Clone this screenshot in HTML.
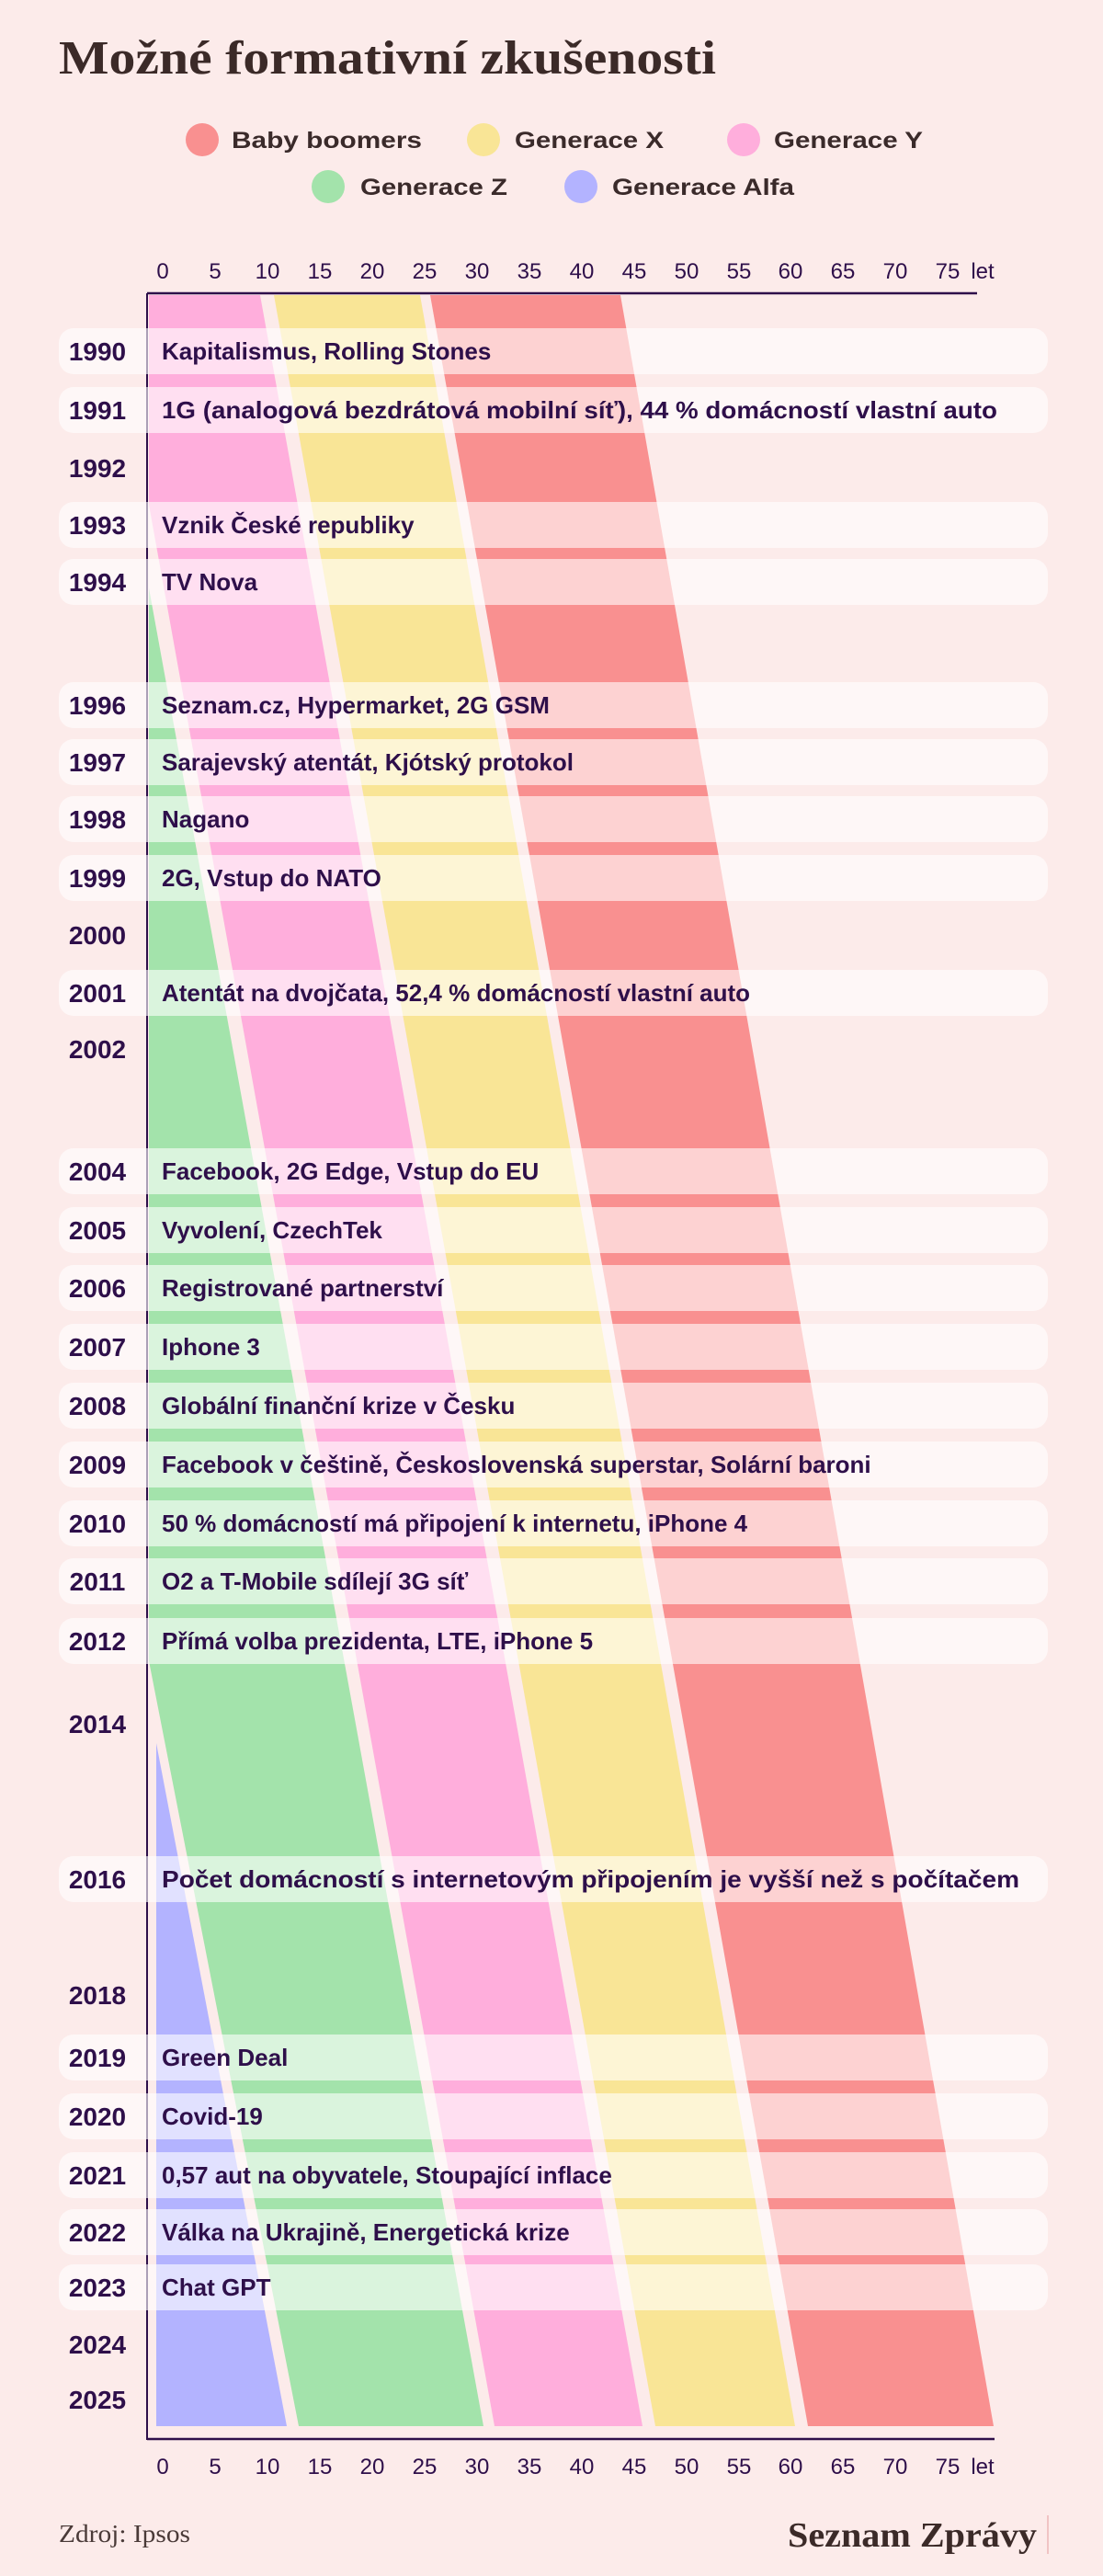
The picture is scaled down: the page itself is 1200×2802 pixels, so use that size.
<!DOCTYPE html>
<html><head><meta charset="utf-8"><style>
html,body{margin:0;padding:0;background:#fcebea;}
svg{display:block;}
.yr{font-family:"Liberation Sans",sans-serif;font-weight:bold;font-size:28px;fill:#2e0f4a;}
.ev{font-family:"Liberation Sans",sans-serif;font-weight:bold;font-size:26px;fill:#2e0f4a;}
.tk{font-family:"Liberation Sans",sans-serif;font-size:24px;fill:#2e0f4a;}
.lg{font-family:"Liberation Sans",sans-serif;font-weight:bold;font-size:25px;fill:#3a2a2a;}
</style></head><body>
<svg width="1200" height="2802" viewBox="0 0 1200 2802" xmlns="http://www.w3.org/2000/svg">
<rect width="1200" height="2802" fill="#fcebea"/>
<text x="64" y="80" font-family="Liberation Serif,serif" font-weight="bold" font-size="52" fill="#3b2a28" textLength="715" lengthAdjust="spacingAndGlyphs">Možné formativní zkušenosti</text>
<circle cx="220" cy="152" r="18" fill="#f99090"/><text class="lg" x="252" y="161" textLength="207" lengthAdjust="spacingAndGlyphs">Baby boomers</text>
<circle cx="526" cy="152" r="18" fill="#f9e596"/><text class="lg" x="560" y="161" textLength="162" lengthAdjust="spacingAndGlyphs">Generace X</text>
<circle cx="809" cy="152" r="18" fill="#ffaedc"/><text class="lg" x="842" y="161" textLength="162" lengthAdjust="spacingAndGlyphs">Generace Y</text>
<circle cx="357" cy="203" r="18" fill="#a3e3ab"/><text class="lg" x="392" y="212" textLength="160" lengthAdjust="spacingAndGlyphs">Generace Z</text>
<circle cx="632" cy="203" r="18" fill="#b3b3ff"/><text class="lg" x="666" y="212" textLength="198" lengthAdjust="spacingAndGlyphs">Generace Alfa</text>
<defs>
<clipPath id="c1"><rect x="162" y="321" width="1000" height="2318"/></clipPath>
<clipPath id="c2"><rect x="170" y="321" width="1000" height="2318"/></clipPath>
</defs>
<g clip-path="url(#c1)">
<polygon points="468,321 675,321 1081,2639 879,2639" fill="#f99090"/>
<polygon points="298,321 457,321 865,2639 713,2639" fill="#f9e596"/>
<polygon points="121,321 283,321 699,2639 538,2639" fill="#ffaedc"/>
<polygon points="-129,321 104,321 526,2639 325,2639" fill="#a3e3ab"/>
</g>
<g clip-path="url(#c2)">
<polygon points="-400,321 -131,321 312,2639 -400,2639" fill="#b3b3ff"/>
</g>
<line x1="160" y1="319" x2="1063" y2="319" stroke="#2e0f4a" stroke-width="2.5"/>
<line x1="160" y1="319" x2="160" y2="2654" stroke="#2e0f4a" stroke-width="2"/>
<line x1="160" y1="2653" x2="1082" y2="2653" stroke="#2e0f4a" stroke-width="2.5"/>
<g class="tk" text-anchor="middle">
<text x="177" y="303">0</text><text x="234" y="303">5</text><text x="291" y="303">10</text><text x="348" y="303">15</text><text x="405" y="303">20</text><text x="462" y="303">25</text><text x="519" y="303">30</text><text x="576" y="303">35</text><text x="633" y="303">40</text><text x="690" y="303">45</text><text x="747" y="303">50</text><text x="804" y="303">55</text><text x="860" y="303">60</text><text x="917" y="303">65</text><text x="974" y="303">70</text><text x="1031" y="303">75</text><text x="1069" y="303">let</text>
<text x="177" y="2691">0</text><text x="234" y="2691">5</text><text x="291" y="2691">10</text><text x="348" y="2691">15</text><text x="405" y="2691">20</text><text x="462" y="2691">25</text><text x="519" y="2691">30</text><text x="576" y="2691">35</text><text x="633" y="2691">40</text><text x="690" y="2691">45</text><text x="747" y="2691">50</text><text x="804" y="2691">55</text><text x="860" y="2691">60</text><text x="917" y="2691">65</text><text x="974" y="2691">70</text><text x="1031" y="2691">75</text><text x="1069" y="2691">let</text>
</g>
<g fill="#ffffff" fill-opacity="0.6">
<rect x="64" y="357" width="1076" height="50" rx="16"/>
<rect x="64" y="421" width="1076" height="50" rx="16"/>
<rect x="64" y="546" width="1076" height="50" rx="16"/>
<rect x="64" y="608" width="1076" height="50" rx="16"/>
<rect x="64" y="742" width="1076" height="50" rx="16"/>
<rect x="64" y="804" width="1076" height="50" rx="16"/>
<rect x="64" y="866" width="1076" height="50" rx="16"/>
<rect x="64" y="930" width="1076" height="50" rx="16"/>
<rect x="64" y="1055" width="1076" height="50" rx="16"/>
<rect x="64" y="1249" width="1076" height="50" rx="16"/>
<rect x="64" y="1313" width="1076" height="50" rx="16"/>
<rect x="64" y="1376" width="1076" height="50" rx="16"/>
<rect x="64" y="1440" width="1076" height="50" rx="16"/>
<rect x="64" y="1504" width="1076" height="50" rx="16"/>
<rect x="64" y="1568" width="1076" height="50" rx="16"/>
<rect x="64" y="1632" width="1076" height="50" rx="16"/>
<rect x="64" y="1695" width="1076" height="50" rx="16"/>
<rect x="64" y="1760" width="1076" height="50" rx="16"/>
<rect x="64" y="2019" width="1076" height="50" rx="16"/>
<rect x="64" y="2213" width="1076" height="50" rx="16"/>
<rect x="64" y="2277" width="1076" height="50" rx="16"/>
<rect x="64" y="2341" width="1076" height="50" rx="16"/>
<rect x="64" y="2403" width="1076" height="50" rx="16"/>
<rect x="64" y="2463" width="1076" height="50" rx="16"/>
</g>
<g class="yr" text-anchor="middle">
<text x="106" y="392">1990</text><text x="106" y="456">1991</text><text x="106" y="519">1992</text><text x="106" y="581">1993</text><text x="106" y="643">1994</text><text x="106" y="777">1996</text><text x="106" y="839">1997</text><text x="106" y="901">1998</text><text x="106" y="965">1999</text><text x="106" y="1027">2000</text><text x="106" y="1090">2001</text><text x="106" y="1151">2002</text><text x="106" y="1284">2004</text><text x="106" y="1348">2005</text><text x="106" y="1411">2006</text><text x="106" y="1475">2007</text><text x="106" y="1539">2008</text><text x="106" y="1603">2009</text><text x="106" y="1667">2010</text><text x="106" y="1730">2011</text><text x="106" y="1795">2012</text><text x="106" y="1885">2014</text><text x="106" y="2054">2016</text><text x="106" y="2180">2018</text><text x="106" y="2248">2019</text><text x="106" y="2312">2020</text><text x="106" y="2376">2021</text><text x="106" y="2438">2022</text><text x="106" y="2498">2023</text><text x="106" y="2560">2024</text><text x="106" y="2620">2025</text>
</g>
<g class="ev">
<text x="176" y="391">Kapitalismus, Rolling Stones</text>
<text x="176" y="455" textLength="909" lengthAdjust="spacingAndGlyphs">1G (analogová bezdrátová mobilní síť), 44 % domácností vlastní auto</text>
<text x="176" y="580">Vznik České republiky</text>
<text x="176" y="642">TV Nova</text>
<text x="176" y="776">Seznam.cz, Hypermarket, 2G GSM</text>
<text x="176" y="838">Sarajevský atentát, Kjótský protokol</text>
<text x="176" y="900">Nagano</text>
<text x="176" y="964">2G, Vstup do NATO</text>
<text x="176" y="1089">Atentát na dvojčata, 52,4 % domácností vlastní auto</text>
<text x="176" y="1283">Facebook, 2G Edge, Vstup do EU</text>
<text x="176" y="1347">Vyvolení, CzechTek</text>
<text x="176" y="1410">Registrované partnerství</text>
<text x="176" y="1474">Iphone 3</text>
<text x="176" y="1538">Globální finanční krize v Česku</text>
<text x="176" y="1602">Facebook v češtině, Československá superstar, Solární baroni</text>
<text x="176" y="1666">50 % domácností má připojení k internetu, iPhone 4</text>
<text x="176" y="1729">O2 a T-Mobile sdílejí 3G síť</text>
<text x="176" y="1794">Přímá volba prezidenta, LTE, iPhone 5</text>
<text x="176" y="2053" textLength="933" lengthAdjust="spacingAndGlyphs">Počet domácností s internetovým připojením je vyšší než s počítačem</text>
<text x="176" y="2247">Green Deal</text>
<text x="176" y="2311">Covid-19</text>
<text x="176" y="2375">0,57 aut na obyvatele, Stoupající inflace</text>
<text x="176" y="2437">Válka na Ukrajině, Energetická krize</text>
<text x="176" y="2497">Chat GPT</text>
</g>
<text x="64" y="2765" font-family="Liberation Serif,serif" font-size="27" fill="#4a3a38" textLength="143" lengthAdjust="spacingAndGlyphs">Zdroj: Ipsos</text>
<text x="857" y="2770" font-family="Liberation Serif,serif" font-weight="bold" font-size="38" fill="#3b2a28" textLength="271" lengthAdjust="spacingAndGlyphs">Seznam Zprávy</text>
<line x1="1140" y1="2736" x2="1140" y2="2778" stroke="#f0c4c4" stroke-width="2"/>
</svg>
</body></html>
